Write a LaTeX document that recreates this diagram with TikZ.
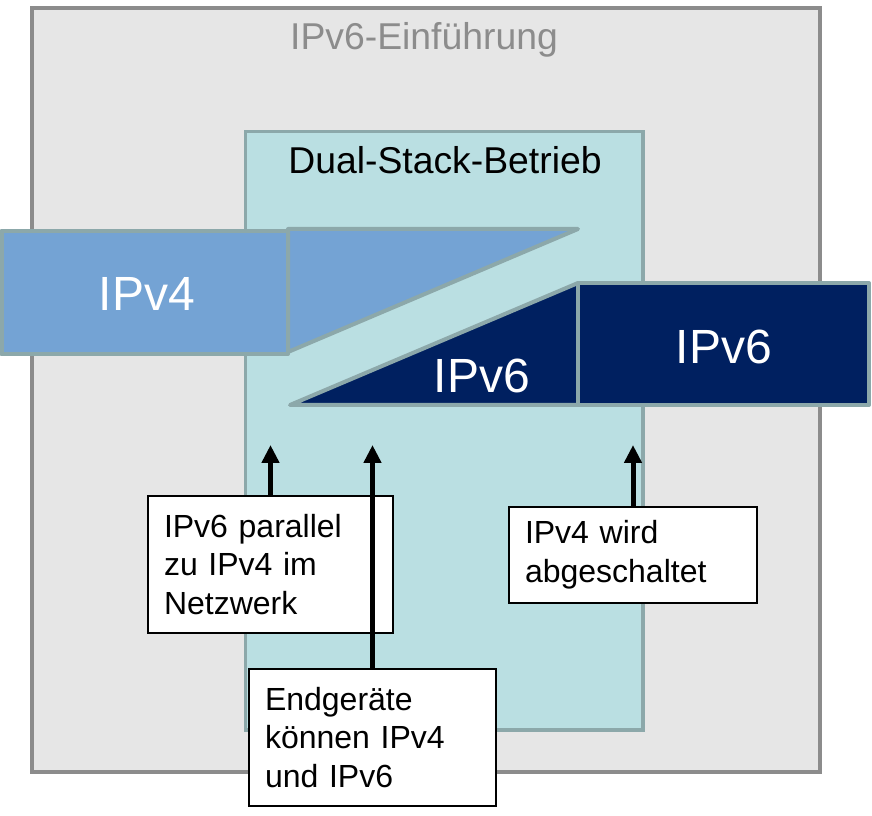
\documentclass[tikz,border=0pt]{standalone}
\usepackage{fontspec}
\setmainfont{Liberation Sans}
\usetikzlibrary{arrows.meta}
\definecolor{cFrame}{HTML}{8C8C8C}
\definecolor{cBack}{HTML}{E6E6E6}
\definecolor{cStack}{HTML}{BADFE2}
\definecolor{cEdge}{HTML}{8CA8AA}
\definecolor{cFour}{HTML}{74A3D4}
\definecolor{cSix}{HTML}{002060}

\begin{document}
\begin{tikzpicture}[x=0.75pt,y=-0.75pt,
  frame/.style={draw=cFrame,fill=cBack,line width=3pt},
  stackbox/.style={draw=cEdge,fill=cStack,line width=2.5pt},
  headline/.style={font=\fontsize{28}{33}\selectfont,anchor=base,inner sep=0pt},
  v4shape/.style={draw=cEdge,fill=cFour,line width=3pt,line join=round},
  v6shape/.style={draw=cEdge,fill=cSix,line width=3pt,line join=round},
  biglbl/.style={font=\fontsize{36}{42}\selectfont,text=white,inner sep=0pt},
  note/.style={draw,fill=white,line width=1.5pt,align=left,anchor=north west,
               inner xsep=12pt,minimum height=102.75pt,
               font=\fontsize{24}{29}\selectfont},
  ar/.style={-{Triangle[length=13.5pt,width=12.75pt]},line width=3.75pt}]

\useasboundingbox (0,0) rectangle (872,816);

\draw[frame] (32,8) rectangle (820,772);
\node[headline,text=cFrame] (einf) at (424,50) {IPv6-Einführung};

\draw[stackbox] (245.5,131.5) rectangle (643,730);
\node[headline] (dual) at (445,174) {Dual-Stack-Betrieb};

\draw[v4shape] (1.5,231.5) rectangle (288,354);
\draw[v4shape] (288,229) -- (578,229) -- (288,352) -- cycle;
\draw[v6shape] (290,405) -- (578,283) -- (578,405) -- cycle;
\draw[v6shape] (578,283) rectangle (869,405);

\node[biglbl] (vier) at (147,294) {IPv4};
\node[biglbl] (sechsa) at (482,376) {IPv6};
\node[biglbl] (sechsb) at (724,347) {IPv6};

\node[note,text width=159.75pt] (par) at (147,495) {IPv6 parallel\\zu IPv4 im\\Netzwerk};
\node[note,text width=161.25pt] (endg) at (248,668) {Endgeräte\\können IPv4\\und IPv6};
\node[note,text width=162pt,minimum height=72pt] (aus) at (508,506) {IPv4 wird\\abgeschaltet};

\coordinate (tip) at (0,445);
\draw[ar] (par.north) -- (par.north |- tip);
\draw[ar] (endg.north) -- (endg.north |- tip);
\draw[ar] (aus.north) -- (aus.north |- tip);
\end{tikzpicture}
\end{document}
